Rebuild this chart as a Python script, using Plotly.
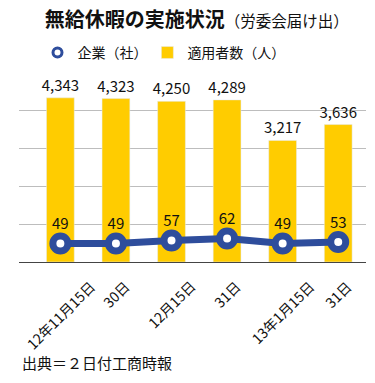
import plotly.graph_objects as go

categories = ["12年11月15日", "30日", "12月15日", "31日", "13年1月15日", "31日 "]
workers = [4343, 4323, 4250, 4289, 3217, 3636]
companies = [49, 49, 57, 62, 49, 53]

BLUE = "#2E4D9C"
YELLOW = "#FFCC00"
FONT = "Noto Sans CJK JP"

fig = go.Figure()
fig.add_trace(go.Bar(
    x=categories, y=workers, marker_color=YELLOW, name="適用者数（人）",
    text=[f"{v:,}" for v in workers], textposition="outside", constraintext="none",
    textfont=dict(size=15, color="#111"), cliponaxis=False, showlegend=False,
))
fig.add_trace(go.Scatter(
    x=categories, y=companies, yaxis="y2", mode="lines+markers+text",
    line=dict(color=BLUE, width=7),
    marker=dict(size=15, color="white", line=dict(color=BLUE, width=7)),
    text=[str(v) for v in companies], textposition="top center",
    textfont=dict(size=15, color="#111"), showlegend=False, cliponaxis=False,
))
# legend entries
fig.add_trace(go.Scatter(x=[None], y=[None], mode="markers", name="企業（社）", legend="legend",
                         marker=dict(size=9, color="white", line=dict(color=BLUE, width=3))))
fig.add_trace(go.Bar(x=[None], y=[None], name="適用者数（人）", marker_color=YELLOW,
                     legend="legend2"))

# category labels, rotated and centred under each bar
tick_annotations = [
    dict(text=c.strip(), x=c, xref="x", y=-0.06, yref="paper", textangle=-45,
         xanchor="center", yanchor="top", showarrow=False, font=dict(size=14))
    for c in categories
]

leg_common = dict(orientation="h", xref="container", yref="container",
                  xanchor="left", yanchor="middle", font=dict(size=14),
                  itemwidth=30, bgcolor="rgba(0,0,0,0)")

fig.update_layout(
    width=375, height=383,
    margin=dict(l=19, r=9, t=73, b=121, autoexpand=False),
    paper_bgcolor="white", plot_bgcolor="white",
    font=dict(family=FONT, color="#111"),
    bargap=0.5,
    title=dict(text="<b>無給休暇の実施状況</b><span style='font-size:15.5px'>（労委会届け出）</span>",
               x=0.525, xanchor="center", y=0.947, yanchor="middle", yref="container",
               font=dict(size=20, family=FONT)),
    showlegend=True,
    legend=dict(x=0.10, y=0.862, **leg_common),
    legend2=dict(x=0.393, y=0.862, **leg_common),
    xaxis=dict(showticklabels=False, showline=True, linecolor="#444",
               linewidth=1, ticks="", automargin=False),
    yaxis=dict(range=[0, 5000], dtick=1000, showticklabels=False, gridcolor="#BDBDBD",
               gridwidth=1, zeroline=False, automargin=False),
    yaxis2=dict(range=[0, 500], overlaying="y", showticklabels=False, showgrid=False,
                zeroline=False, automargin=False),
    annotations=tick_annotations + [
        dict(text="出典＝２日付工商時報", x=0.003, xref="paper", y=-0.534, yref="paper",
             xanchor="left", yanchor="middle", showarrow=False, font=dict(size=15))],
)
fig.write_html("out.html", config={"displayModeBar": False},
               post_script="document.body.style.margin='0';")
